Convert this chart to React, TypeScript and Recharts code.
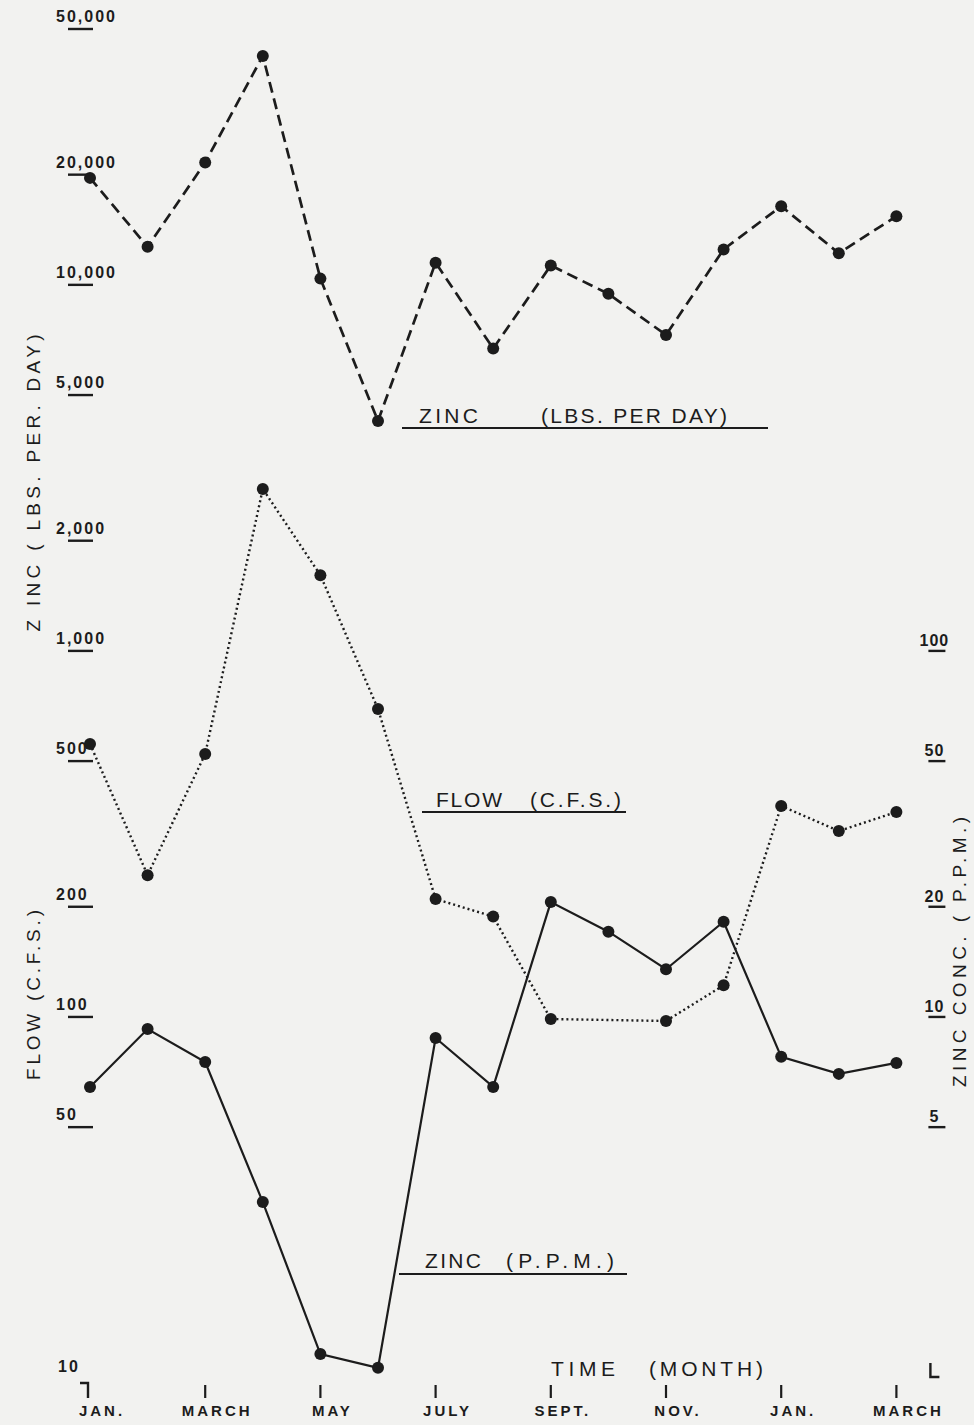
import React from 'react';
import { LineChart, Line, XAxis, YAxis } from 'recharts';

// ---- data (monthly samples, Jan .. March of following year) ----
const monthIndex = [0, 1, 2, 3, 4, 5, 6, 7, 8, 9, 10, 11, 12, 13, 14];
const monthNames = ['Jan', 'Feb', 'Mar', 'Apr', 'May', 'Jun', 'Jul', 'Aug', 'Sep', 'Oct', 'Nov', 'Dec', 'Jan', 'Feb', 'Mar'];
const zincLoadLbsPerDay = [19600, 12700, 21600, 42200, 10400, 4250, 11500, 6700, 11300, 9450, 7300, 12500, 16400, 12200, 15400];
const flowCfs: (number | null)[] = [557, 244, 523, 2770, 1610, 694, 210, 188, 98.7, null, 97.5, 122, 377, 322, 363];
const zincPpm = [6.44, 9.27, 7.53, 3.12, 1.2, 1.1, 8.76, 6.44, 20.6, 17.1, 13.5, 18.2, 7.78, 6.99, 7.49];

const xTickValues = [0, 2, 4, 6, 8, 10, 12, 14];
const xTickLabels = ['JAN.', 'MARCH', 'MAY', 'JULY', 'SEPT.', 'NOV.', 'JAN.', 'MARCH'];
const leftTickValues = [50000, 20000, 10000, 5000, 2000, 1000, 500, 200, 100, 50, 10];
const leftTickLabels = ['50,000', '20,000', '10,000', '5,000', '2,000', '1,000', '500', '200', '100', '50', '10'];
const rightTickValues = [100, 50, 20, 10, 5, 1];
const rightTickLabels = ['100', '50', '20', '10', '5', ''];

const data = monthIndex.map((m, i) => ({
  idx: m,
  month: monthNames[i],
  load: zincLoadLbsPerDay[i],
  flow: flowCfs[i],
  ppm: zincPpm[i],
}));

const INK = '#1c1c1c';
const BG = '#f2f2f0';
const FONT = '"Liberation Sans", Arial, sans-serif';

function LeftTick(props: any) {
  const { x, y, payload } = props;
  const i = leftTickValues.indexOf(payload.value);
  const label = leftTickLabels[i];
  if (payload.value === 10) {
    return (
      <g>
        <text x={x - 32} y={y - 11} fontFamily={FONT} fontSize={16} fontWeight="bold" fill={INK} letterSpacing={2}>
          {label}
        </text>
        <path d={`M${x - 10},${y} H${x - 2} V${y + 15}`} stroke={INK} strokeWidth={2.4} fill="none" />
      </g>
    );
  }
  return (
    <g>
      <text x={x - 34} y={y - 7} fontFamily={FONT} fontSize={16} fontWeight="bold" fill={INK} letterSpacing={2}>
        {label}
      </text>
      <line x1={x - 22} x2={x + 3} y1={y} y2={y} stroke={INK} strokeWidth={2.4} />
    </g>
  );
}

function RightTick(props: any) {
  const { x, y, payload } = props;
  const i = rightTickValues.indexOf(payload.value);
  if (payload.value === 1) {
    return <path d={`M${x + 34},${y - 20} V${y - 6} H${x + 43}`} stroke={INK} strokeWidth={2.4} fill="none" />;
  }
  return (
    <g>
      <text x={x + 38} y={y - 5} textAnchor="middle" fontFamily={FONT} fontSize={16} fontWeight="bold" fill={INK} letterSpacing={1}>
        {rightTickLabels[i]}
      </text>
      <line x1={x + 32} x2={x + 49} y1={y} y2={y} stroke={INK} strokeWidth={2.4} />
    </g>
  );
}

function MonthTick(props: any) {
  const { x, y, payload } = props;
  const i = xTickValues.indexOf(payload.value);
  return (
    <g>
      {i === 0 ? null : <line x1={x} x2={x} y1={y + 2} y2={y + 15} stroke={INK} strokeWidth={2.2} />}
      <text x={x + 12} y={y + 33} textAnchor="middle" fontFamily={FONT} fontSize={15} fontWeight="bold" fill={INK} letterSpacing={3}>
        {xTickLabels[i]}
      </text>
    </g>
  );
}

const makeDot = (r: number) => (p: any) => {
  if (p.cy == null || p.value == null) return <g key={p.key} />;
  return <circle key={p.key} cx={p.cx} cy={p.cy} r={r} fill={INK} stroke="none" />;
};

export default function App() {
  return (
    <div style={{ position: 'absolute', left: 0, top: 0, width: 974, height: 1425, background: BG, overflow: 'hidden' }}>
      <LineChart width={974} height={1425} data={data} margin={{ top: 29, right: 0, bottom: 0, left: 0 }}>
        <XAxis
          xAxisId="x"
          dataKey="idx"
          type="number"
          domain={[0, 14]}
          ticks={xTickValues}
          interval={0}
          height={42}
          axisLine={false}
          tickLine={false}
          tickSize={0}
          tickMargin={0}
          padding={{ left: 0, right: 0 }}
          tick={<MonthTick />}
        />
        <YAxis
          yAxisId="left"
          orientation="left"
          scale="log"
          domain={[10, 50000]}
          allowDataOverflow
          ticks={leftTickValues}
          interval={0}
          width={90}
          axisLine={false}
          tickLine={false}
          tickSize={0}
          tickMargin={0}
          tick={<LeftTick />}
        />
        <YAxis
          yAxisId="right"
          orientation="right"
          scale="log"
          domain={[1, 5000]}
          allowDataOverflow
          ticks={rightTickValues}
          interval={0}
          width={77.6}
          axisLine={false}
          tickLine={false}
          tickSize={0}
          tickMargin={0}
          tick={<RightTick />}
        />
        <Line
          xAxisId="x"
          yAxisId="left"
          dataKey="load"
          type="linear"
          stroke={INK}
          strokeWidth={2.7}
          strokeDasharray="11 6"
          dot={makeDot(6)}
          activeDot={false}
          isAnimationActive={false}
        />
        <Line
          xAxisId="x"
          yAxisId="left"
          dataKey="flow"
          type="linear"
          stroke={INK}
          strokeWidth={2.4}
          strokeDasharray="2 3"
          connectNulls
          dot={makeDot(6)}
          activeDot={false}
          isAnimationActive={false}
        />
        <Line
          xAxisId="x"
          yAxisId="right"
          dataKey="ppm"
          type="linear"
          stroke={INK}
          strokeWidth={2.2}
          dot={makeDot(6)}
          activeDot={false}
          isAnimationActive={false}
        />
      </LineChart>
      <svg width={974} height={1425} style={{ position: 'absolute', left: 0, top: 0, pointerEvents: 'none' }}>
        <g fontFamily={FONT} fill={INK} fontSize={21} style={{ whiteSpace: 'pre' }}>
          <text x={419} y={423} textLength={59} lengthAdjust="spacing">ZINC</text>
          <text x={541} y={423} textLength={186} lengthAdjust="spacing">(LBS. PER DAY)</text>
          <line x1={402} x2={768} y1={428} y2={428} stroke={INK} strokeWidth={2.2} />

          <text x={436} y={807} textLength={66} lengthAdjust="spacing">FLOW</text>
          <text x={530} y={807} textLength={91} lengthAdjust="spacing">(C.F.S.)</text>
          <line x1={422} x2={626} y1={812} y2={812} stroke={INK} strokeWidth={2.2} />

          <text x={425} y={1268} textLength={56} lengthAdjust="spacing">ZINC</text>
          <text x={506} y={1268} textLength={108} lengthAdjust="spacing">(P.P.M.)</text>
          <line x1={399} x2={627} y1={1274} y2={1274} stroke={INK} strokeWidth={2.2} />

          <text x={551} y={1376} textLength={64} lengthAdjust="spacing">TIME</text>
          <text x={649} y={1376} textLength={114} lengthAdjust="spacing">(MONTH)</text>

          <text transform="translate(40,483) rotate(-90)" textAnchor="middle" fontSize={19} textLength={297} lengthAdjust="spacing">
            Z INC  ( LBS.  PER.  DAY)
          </text>
          <text transform="translate(40,995) rotate(-90)" textAnchor="middle" fontSize={19} textLength={170} lengthAdjust="spacing">
            FLOW   (C.F.S.)
          </text>
          <text transform="translate(966,952) rotate(-90)" textAnchor="middle" fontSize={19} textLength={270} lengthAdjust="spacing">
            ZINC  CONC.  ( P.P.M.)
          </text>
        </g>
      </svg>
    </div>
  );
}
